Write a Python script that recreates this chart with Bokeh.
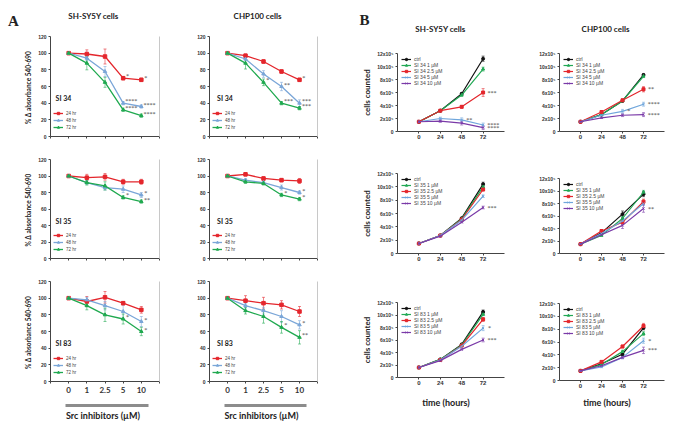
import math
from bokeh.plotting import figure
from bokeh.models import (ColumnDataSource, Range1d, FixedTicker, LinearAxis, Label,
                          Legend, LegendItem, Whisker, TeeHead)
from bokeh.embed import file_html
from bokeh.resources import INLINE

# ---------------- categories / ticks ----------------
DOSES = ["0", "1", "2.5", "5", "10"]
TIMES = ["24 hr", "48 hr", "72 hr"]
HOURS = [0, 24, 48, 72]
CONCS = ["ctrl", "1 µM", "2.5 µM", "5 µM", "10 µM"]
A_Y_TICKS = [0, 20, 40, 60, 80, 100, 120]
B_Y_TICKS = [0, 2, 4, 6, 8, 10, 12]
B_Y_LABELS = ["0", "2x10⁵", "4x10⁵", "6x10⁵", "8x10⁵", "10x10⁵", "12x10⁵"]

# ---------------- Panel A: % absorbance ----------------
sh34 = {"24 hr": [100, 99, 96, 70, 68], "48 hr": [100, 94, 78, 40, 36], "72 hr": [100, 88, 65, 32, 25]}
sh34_err = {"24 hr": [0, 5, 9, 2, 2], "48 hr": [0, 3, 6, 2, 2], "72 hr": [0, 8, 6, 2, 2]}
sh34_sig = [("24 hr", 3, "*"), ("24 hr", 4, "*"), ("48 hr", 3, "****"), ("72 hr", 3, "****"),
            ("48 hr", 4, "****"), ("72 hr", 4, "****")]
chp34 = {"24 hr": [100, 97, 90, 78, 68], "48 hr": [100, 93, 75, 60, 40], "72 hr": [100, 88, 65, 40, 34]}
chp34_err = {"24 hr": [0, 2, 2, 2, 2], "48 hr": [0, 2, 4, 5, 4], "72 hr": [0, 7, 4, 2, 2]}
chp34_sig = [("24 hr", 4, "*"), ("72 hr", 2, "*"), ("48 hr", 3, "**"), ("72 hr", 3, "***"),
             ("48 hr", 4, "***"), ("72 hr", 4, "***")]
sh35 = {"24 hr": [100, 98, 99, 93, 93], "48 hr": [100, 92, 86, 84, 77], "72 hr": [100, 92, 88, 74, 69]}
sh35_err = {"24 hr": [0, 4, 4, 3, 3], "48 hr": [0, 2, 3, 4, 3], "72 hr": [0, 3, 5, 2, 2]}
sh35_sig = [("48 hr", 4, "*"), ("72 hr", 3, "*"), ("72 hr", 4, "**")]
chp35 = {"24 hr": [100, 102, 97, 95, 94], "48 hr": [100, 95, 92, 86, 80], "72 hr": [100, 93, 91, 77, 72]}
chp35_err = {"24 hr": [0, 2, 2, 2, 3], "48 hr": [0, 2, 2, 3, 2], "72 hr": [0, 2, 2, 2, 2]}
chp35_sig = [("48 hr", 4, "*"), ("72 hr", 3, "*"), ("72 hr", 4, "*")]
sh83 = {"24 hr": [100, 96, 101, 94, 86], "48 hr": [100, 98, 91, 84, 72], "72 hr": [100, 91, 80, 75, 60]}
sh83_err = {"24 hr": [0, 6, 7, 2, 4], "48 hr": [0, 3, 5, 8, 6], "72 hr": [0, 5, 8, 6, 5]}
sh83_sig = [("72 hr", 3, "*"), ("48 hr", 4, "*"), ("72 hr", 4, "*")]
chp83 = {"24 hr": [100, 97, 94, 92, 84], "48 hr": [100, 91, 85, 78, 68], "72 hr": [100, 85, 78, 65, 53]}
chp83_err = {"24 hr": [0, 6, 7, 5, 6], "48 hr": [0, 3, 4, 7, 5], "72 hr": [0, 4, 8, 7, 8]}
chp83_sig = [("72 hr", 3, "*"), ("48 hr", 4, "*"), ("72 hr", 4, "**")]

# ---------------- Panel B: cells counted (x10^5) ----------------
b_sh34 = {"ctrl": [1.5, 3.2, 5.8, 11.2], "1 µM": [1.5, 3.2, 5.6, 9.6], "2.5 µM": [1.5, 3.2, 3.8, 6.0],
          "5 µM": [1.5, 2.0, 1.8, 1.0], "10 µM": [1.5, 1.6, 1.3, 0.6]}
b_sh34_err = {"ctrl": [0.05, 0.1, 0.2, 0.4], "1 µM": [0.05, 0.1, 0.2, 0.3], "2.5 µM": [0.05, 0.1, 0.2, 0.6],
              "5 µM": [0.05, 0.2, 0.3, 0.3], "10 µM": [0.05, 0.2, 0.3, 0.3]}
b_sh34_sig = [("2.5 µM", 3, "***"), ("5 µM", 2, "**"), ("5 µM", 3, "****"), ("10 µM", 3, "****")]
b_chp34 = {"ctrl": [1.5, 2.6, 4.7, 8.7], "1 µM": [1.5, 2.6, 4.7, 8.5], "2.5 µM": [1.5, 3.0, 4.8, 6.5],
           "5 µM": [1.5, 2.5, 3.1, 4.2], "10 µM": [1.5, 2.1, 2.5, 2.6]}
b_chp34_err = {"ctrl": [0.05, 0.1, 0.1, 0.2], "1 µM": [0.05, 0.1, 0.1, 0.2], "2.5 µM": [0.05, 0.1, 0.2, 0.4],
               "5 µM": [0.05, 0.1, 0.3, 0.3], "10 µM": [0.05, 0.1, 0.2, 0.3]}
b_chp34_sig = [("2.5 µM", 3, "**"), ("5 µM", 2, "*"), ("5 µM", 3, "****"), ("10 µM", 3, "****")]
b_sh35 = {"ctrl": [1.5, 2.7, 5.3, 10.4], "1 µM": [1.5, 2.7, 5.2, 10.0], "2.5 µM": [1.5, 2.7, 5.1, 9.6],
          "5 µM": [1.5, 2.7, 5.0, 8.6], "10 µM": [1.5, 2.6, 4.7, 6.9]}
b_sh35_err = {"ctrl": [0.05, 0.1, 0.1, 0.3], "1 µM": [0.05, 0.1, 0.1, 0.2], "2.5 µM": [0.05, 0.1, 0.1, 0.2],
              "5 µM": [0.05, 0.1, 0.1, 0.2], "10 µM": [0.05, 0.1, 0.1, 0.2]}
b_sh35_sig = [("10 µM", 3, "***")]
b_chp35 = {"ctrl": [1.5, 3.3, 6.3, 9.5], "1 µM": [1.5, 2.9, 5.6, 9.8], "2.5 µM": [1.5, 3.6, 5.0, 8.3],
           "5 µM": [1.5, 3.2, 5.2, 8.0], "10 µM": [1.5, 3.0, 4.5, 7.2]}
b_chp35_err = {"ctrl": [0.05, 0.1, 0.5, 0.4], "1 µM": [0.05, 0.1, 0.3, 0.3], "2.5 µM": [0.05, 0.1, 0.3, 0.4],
               "5 µM": [0.05, 0.1, 0.3, 0.3], "10 µM": [0.05, 0.1, 0.5, 0.6]}
b_chp35_sig = [("10 µM", 3, "**")]
b_sh83 = {"ctrl": [1.6, 2.9, 5.3, 10.5], "1 µM": [1.6, 2.9, 5.2, 10.1], "2.5 µM": [1.6, 2.8, 5.1, 9.3],
          "5 µM": [1.6, 2.8, 5.0, 7.9], "10 µM": [1.6, 2.7, 4.5, 6.0]}
b_sh83_err = {"ctrl": [0.05, 0.1, 0.1, 0.3], "1 µM": [0.05, 0.1, 0.1, 0.2], "2.5 µM": [0.05, 0.1, 0.1, 0.3],
              "5 µM": [0.05, 0.1, 0.1, 0.4], "10 µM": [0.05, 0.1, 0.1, 0.3]}
b_sh83_sig = [("5 µM", 3, "*"), ("10 µM", 3, "***")]
b_chp83 = {"ctrl": [1.5, 2.6, 4.1, 8.2], "1 µM": [1.5, 2.5, 4.5, 7.3], "2.5 µM": [1.5, 2.9, 5.3, 8.5],
           "5 µM": [1.5, 2.1, 3.6, 6.2], "10 µM": [1.5, 2.3, 3.6, 4.7]}
b_chp83_err = {"ctrl": [0.05, 0.1, 0.2, 0.3], "1 µM": [0.05, 0.1, 0.2, 0.3], "2.5 µM": [0.05, 0.1, 0.2, 0.4],
               "5 µM": [0.05, 0.1, 0.2, 0.4], "10 µM": [0.05, 0.1, 0.2, 0.5]}
b_chp83_sig = [("5 µM", 3, "*"), ("10 µM", 3, "***")]

# ---------------- styles & layout geometry (pixels on the page) ----------------
A_COLORS = ["#e4262c", "#7aa6d8", "#1fa94f"]
A_MARKERS = ["square", "triangle", "triangle"]
B_COLORS = ["#111111", "#22a955", "#e3262c", "#6fa6dc", "#7a3aa8"]
B_MARKERS = ["circle", "triangle", "square", "x", "x"]
SANS = "Liberation Sans"
HEAD = "Lato"
W, H = 685, 428
A_COLS = [(50, 159), (209, 317)]
A_ROWS = [(36, 136), (159, 258), (281, 381)]
B_COLS = [(397, 504), (559, 664)]
B_ROWS = [[(53, 131), (173, 253), (302, 377)], [(53, 131), (178, 253), (303, 380)]]

p = figure(width=W, height=H, x_range=Range1d(0, W), y_range=Range1d(H, 0),
           x_axis_location=None, y_axis_location=None, output_backend="svg",
           toolbar_location=None, min_border=0)
p.grid.visible = False
p.outline_line_color = None

XR, YR = {}, {}


def sub_x(L, R, v0, v1):
    k = (v1 - v0) / (R - L)
    return Range1d(v0 - L * k, v0 + (W - L) * k)


def sub_y(T, B, v0, v1):
    k = (v1 - v0) / (B - T)
    return Range1d(v0 - (H - B) * k, v0 + B * k)


def style_axis(ax, size, font=SANS):
    ax.major_tick_out = 2
    ax.major_tick_in = 0
    ax.minor_tick_out = 0
    ax.minor_tick_in = 0
    ax.axis_line_color = "#444444"
    ax.major_tick_line_color = "#444444"
    ax.major_label_text_font = font
    ax.major_label_text_font_style = "bold"
    ax.major_label_text_color = "#333333"
    ax.major_label_text_font_size = size
    return ax


def add_whiskers(src, col, kw):
    p.add_layout(Whisker(source=src, base="x", upper="hi", lower="lo", line_color=col,
                         line_alpha=0.7, line_width=0.8,
                         upper_head=TeeHead(size=3, line_color=col, line_alpha=0.7, line_width=0.8),
                         lower_head=TeeHead(size=3, line_color=col, line_alpha=0.7, line_width=0.8),
                         **kw))


def add_sig(xs, vals, sigs, dx, dy, kw):
    sx = [xs[s[1]] for s in sigs]
    sy = [vals[s[0]][s[1]] for s in sigs]
    st = [s[2] for s in sigs]
    xo = [dx + 1.3 * len(s[2]) for s in sigs]
    src = ColumnDataSource(dict(x=sx, y=sy, t=st, xo=xo, yo=[dy] * len(sigs)))
    p.text(x="x", y="y", text="t", x_offset="xo", y_offset="yo", source=src,
           text_font_size="6px", text_align="center", text_baseline="middle",
           text_color="#3a3a3a", text_font=SANS, **kw)


def page_label(x, y, text, size, font=HEAD, angle=0.0):
    p.add_layout(Label(x=x, y=y, text=text, text_font=font, text_font_size=size,
                       text_font_style="bold", text_align="center", text_baseline="middle",
                       text_color="#222222", angle=angle))


def panel_a(key, vals, errs, sigs, si, ci, ri):
    L, R = A_COLS[ci]
    T, B = A_ROWS[ri]
    n = len(DOSES)
    XR[key + "x"] = sub_x(L, R, -1, n)
    YR[key + "y"] = sub_y(T, B, 0, 120)
    kw = dict(x_range_name=key + "x", y_range_name=key + "y")
    xs = list(range(n))
    yax = style_axis(LinearAxis(fixed_location=-1, bounds=(0, 120),
                                ticker=FixedTicker(ticks=A_Y_TICKS), major_label_standoff=2, **kw), "5px")
    p.add_layout(yax, "left")
    bottom = ri == len(A_ROWS) - 1
    over = {i: (d if bottom else "") for i, d in enumerate(DOSES)}
    over[-1] = ""
    over[n] = ""
    xax = style_axis(LinearAxis(fixed_location=0, bounds=(-1, n),
                                ticker=FixedTicker(ticks=list(range(-1, n + 1))),
                                major_label_overrides=over, major_label_standoff=3, **kw),
                     "8px", HEAD)
    p.add_layout(xax, "below")
    rax = LinearAxis(fixed_location=n, bounds=(0, 120), ticker=FixedTicker(ticks=[]),
                     axis_line_color="#c8c8c8", major_tick_out=0, minor_tick_out=0,
                     major_label_text_font_size="0px", **kw)
    p.add_layout(rax, "right")
    if bottom:
        bar_val = -(405 - B) * 120 / (B - T)
        bar = LinearAxis(fixed_location=bar_val, bounds=(-0.15, 4.4), ticker=FixedTicker(ticks=[]),
                         axis_line_color="#8c8c8c", axis_line_width=3, major_tick_out=0,
                         minor_tick_out=0, major_label_text_font_size="0px", **kw)
        p.add_layout(bar, "below")
        page_label((L + R) / 2 - 2, 415, "Src inhibitors (µM)", "9px")
    if ci == 0:
        page_label(28, (T + B) / 2 + 1, "% Δ absorbance 540-690", "6.5px", angle=math.pi / 2)
    items = []
    for t, col, mk in zip(TIMES, A_COLORS, A_MARKERS):
        lo = [v - e for v, e in zip(vals[t], errs[t])]
        hi = [v + e for v, e in zip(vals[t], errs[t])]
        src = ColumnDataSource(dict(x=xs, y=vals[t], lo=lo, hi=hi))
        add_whiskers(src, col, kw)
        ln = p.line("x", "y", source=src, line_color=col, line_width=1.3, **kw)
        sc = p.scatter("x", "y", source=src, marker=mk, size=3.5, color=col, **kw)
        items.append(LegendItem(label=t, renderers=[ln, sc]))
    add_sig(xs, vals, sigs, 3, -2, kw)
    p.add_layout(Label(x=[-0.72, -0.58][ci], y=46, text=si, text_font=HEAD, text_font_size="7px",
                       text_font_style="bold", text_baseline="middle", text_color="#222222", **kw))
    leg = Legend(items=items, location=(L + 3, H - (B - 6)), label_text_font_size="4.5px",
                 label_text_font=SANS, glyph_width=10, glyph_height=6, label_height=6, spacing=1,
                 padding=0, margin=0, background_fill_alpha=0, border_line_color=None,
                 label_standoff=3)
    p.add_layout(leg)


def panel_b(key, vals, errs, sigs, si, ci, ri):
    L, R = B_COLS[ci]
    T, B = B_ROWS[ci][ri]
    XR[key + "x"] = sub_x(L, R, -24, 96)
    YR[key + "y"] = sub_y(T, B, 0, 12)
    kw = dict(x_range_name=key + "x", y_range_name=key + "y")
    yax = style_axis(LinearAxis(fixed_location=-24, bounds=(0, 12), ticker=FixedTicker(ticks=B_Y_TICKS),
                                major_label_overrides={t: l for t, l in zip(B_Y_TICKS, B_Y_LABELS)},
                                major_label_standoff=2, **kw), "5px")
    p.add_layout(yax, "left")
    xax = style_axis(LinearAxis(fixed_location=0, bounds=(-24, 96), ticker=FixedTicker(ticks=HOURS),
                                major_label_standoff=1, **kw), "6px")
    p.add_layout(xax, "below")
    if ci == 0:
        page_label(366, (T + B) / 2, "cells counted", "8px", angle=math.pi / 2)
    if ri == len(B_ROWS[ci]) - 1:
        page_label((L + R) / 2 - 5, 402, "time (hours)", "9px")
    items = []
    for c, col, mk in zip(CONCS, B_COLORS, B_MARKERS):
        lo = [v - e for v, e in zip(vals[c], errs[c])]
        hi = [v + e for v, e in zip(vals[c], errs[c])]
        src = ColumnDataSource(dict(x=HOURS, y=vals[c], lo=lo, hi=hi))
        add_whiskers(src, col, kw)
        ln = p.line("x", "y", source=src, line_color=col, line_width=1.2, **kw)
        sc = p.scatter("x", "y", source=src, marker=mk, size=3, color=col, line_width=1, **kw)
        lab = c if c == "ctrl" else f"{si} {c}"
        items.append(LegendItem(label=lab, renderers=[ln, sc]))
    add_sig(HOURS, vals, sigs, 5, 0, kw)
    leg = Legend(items=items, location=(L + 4, H - (T + 3 + 6 * len(CONCS))), label_text_font_size="5px",
                 label_text_font=SANS, glyph_width=10, glyph_height=6, label_height=6, spacing=0,
                 padding=0, margin=0, background_fill_alpha=0, border_line_color=None,
                 label_standoff=3)
    p.add_layout(leg)


panel_a("a1", sh34, sh34_err, sh34_sig, "SI 34", 0, 0)
panel_a("a2", sh35, sh35_err, sh35_sig, "SI 35", 0, 1)
panel_a("a3", sh83, sh83_err, sh83_sig, "SI 83", 0, 2)
panel_a("a4", chp34, chp34_err, chp34_sig, "SI 34", 1, 0)
panel_a("a5", chp35, chp35_err, chp35_sig, "SI 35", 1, 1)
panel_a("a6", chp83, chp83_err, chp83_sig, "SI 83", 1, 2)
panel_b("b1", b_sh34, b_sh34_err, b_sh34_sig, "SI 34", 0, 0)
panel_b("b2", b_sh35, b_sh35_err, b_sh35_sig, "SI 35", 0, 1)
panel_b("b3", b_sh83, b_sh83_err, b_sh83_sig, "SI 83", 0, 2)
panel_b("b4", b_chp34, b_chp34_err, b_chp34_sig, "SI 34", 1, 0)
panel_b("b5", b_chp35, b_chp35_err, b_chp35_sig, "SI 35", 1, 1)
panel_b("b6", b_chp83, b_chp83_err, b_chp83_sig, "SI 83", 1, 2)

p.extra_x_ranges = XR
p.extra_y_ranges = YR

# headings and panel letters
page_label(93, 15, "SH-SY5Y cells", "8px")
page_label(257, 15, "CHP100 cells", "8px")
page_label(440, 28, "SH-SY5Y cells", "8px")
page_label(605, 28, "CHP100 cells", "8px")
page_label(13, 20, "A", "15px", font="Liberation Serif")
page_label(364, 19, "B", "15px", font="Liberation Serif")

open("out.html", "w").write(file_html(p, INLINE))
